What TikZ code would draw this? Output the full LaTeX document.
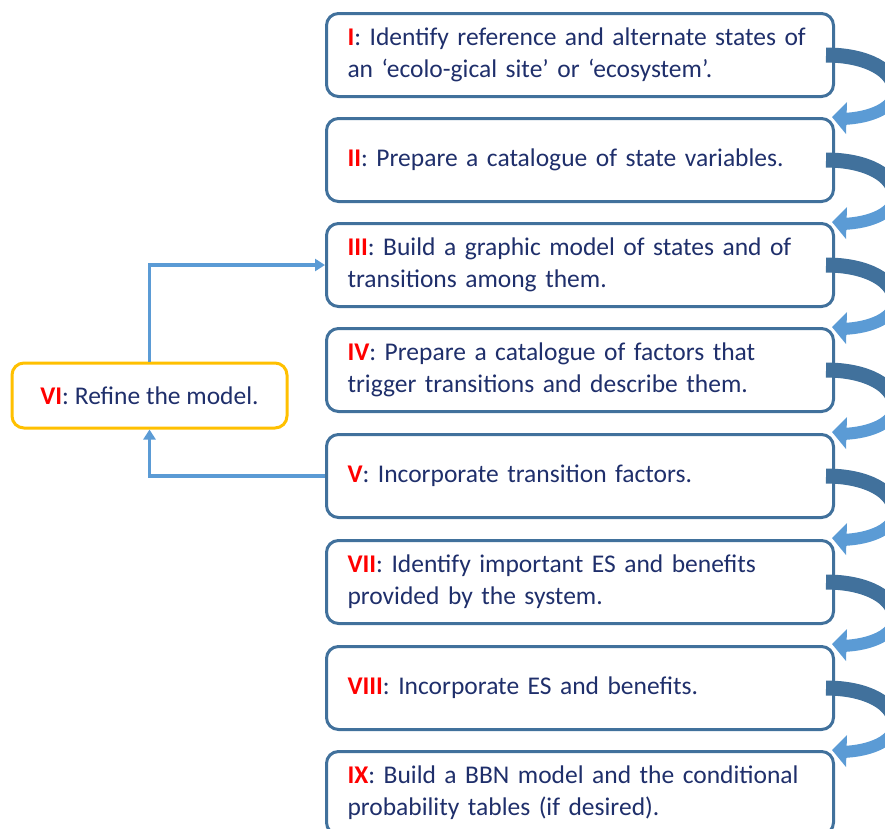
\documentclass[tikz,border=0pt]{standalone}
\usepackage{fontspec}
\setmainfont{Carlito}
\usetikzlibrary{arrows.meta}
\definecolor{boxline}{HTML}{41719C}
\definecolor{darkband}{HTML}{41719C}
\definecolor{lightband}{HTML}{5B9BD5}
\definecolor{txt}{HTML}{1F2F6B}
\definecolor{rednum}{HTML}{FF0000}
\definecolor{gold}{HTML}{FFC000}
\newcommand{\num}[1]{\textcolor{rednum}{\bfseries #1}}
\newcommand{\curvarrow}[1]{%
  \begin{scope}[yshift=-#1pt]
    \draw[darkband, line width=15pt] (826,43) .. controls (866,43) and (895,58) .. (895,80);
    \draw[lightband, line width=12pt] (895,79) .. controls (895,95) and (872,106) .. (842,107);
    \fill[lightband] (832,105) -- (847,90) -- (846,122) -- cycle;
  \end{scope}}
\begin{document}
\begin{tikzpicture}[x=1pt,y=-1pt,
  stepbox/.style={draw=boxline, line width=3pt, rounded corners=12pt, fill=white,
    anchor=north west, minimum width=507pt, minimum height=83pt,
    text width=465pt, inner xsep=21pt, align=left, text=txt,
    font=\fontsize{25.5}{32}\selectfont},
  refbox/.style={draw=gold, line width=3pt, rounded corners=12pt, fill=white,
    minimum width=275pt, minimum height=65pt, text=txt,
    font=\fontsize{25.5}{32}\selectfont},
  link/.style={lightband, line width=3.5pt, -{Triangle[width=12pt,length=10pt]}}]
\useasboundingbox (0,0) rectangle (885,828);
\clip (0,0) rectangle (885,828);
\node[stepbox] (b1) at (325,12) {\num{I}: Identify reference and alternate states of\\an ‘ecolo-gical site’ or ‘ecosystem’.};
\node[stepbox] (b2) at (325,117) {\num{II}: Prepare a catalogue of state variables.};
\node[stepbox] (b3) at (325,222) {\num{III}: Build a graphic model of states and of\\transitions among them.};
\node[stepbox] (b4) at (325,327) {\num{IV}: Prepare a catalogue of factors that\\trigger transitions and describe them.};
\node[stepbox] (b5) at (325,433) {\num{V}: Incorporate transition factors.};
\node[stepbox] (b7) at (325,539) {\num{VII}: Identify important ES and benefits\\provided by the system.};
\node[stepbox] (b8) at (325,645) {\num{VIII}: Incorporate ES and benefits.};
\node[stepbox] (b9) at (325,750) {\num{IX}: Build a BBN model and the conditional\\probability tables (if desired).};
\node[refbox] (b6) at (149.5,395.5) {\num{VI}: Refine the model.};
\draw[link] (b6.north) |- (b3.west);
\draw[link] (b5.west) -| (b6.south);
\curvarrow{12}
\curvarrow{117}
\curvarrow{222}
\curvarrow{327}
\curvarrow{433}
\curvarrow{539}
\curvarrow{645}
\end{tikzpicture}
\end{document}
